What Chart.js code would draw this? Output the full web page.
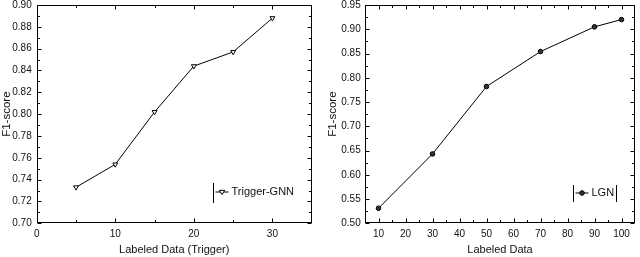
<!DOCTYPE html>
<html><head><meta charset="utf-8">
<script src="https://cdn.jsdelivr.net/npm/chart.js@4.4.0/dist/chart.umd.min.js"></script>
<style>
html,body{margin:0;padding:0;background:#fff;}
#wrap{position:relative;width:640px;height:257px;overflow:hidden;}
.c{position:absolute;top:0;width:320px;height:257px;}
</style></head><body>
<div id="wrap">
<div class="c" style="left:0"><canvas id="c1" width="320" height="257"></canvas></div>
<div class="c" style="left:320px"><canvas id="c2" width="320" height="257"></canvas></div>
</div>
<script>
// ---- Left chart data ----
const leftX = [5, 10, 15, 20, 25, 30];
const leftF1 = [0.733, 0.754, 0.802, 0.844, 0.857, 0.888];
const leftXTicks = [0, 10, 20, 30];
const leftXMinor = [5, 15, 25];
const leftYTicks = [0.70, 0.72, 0.74, 0.76, 0.78, 0.80, 0.82, 0.84, 0.86, 0.88, 0.90];
const leftYMinor = [0.71, 0.73, 0.75, 0.77, 0.79, 0.81, 0.83, 0.85, 0.87, 0.89];
const leftLabel = 'Trigger-GNN';

// ---- Right chart data ----
const rightX = [10, 30, 50, 70, 90, 100];
const rightF1 = [0.531, 0.643, 0.782, 0.854, 0.905, 0.920];
const rightXTicks = [10, 20, 30, 40, 50, 60, 70, 80, 90, 100];
const rightXMinor = [15, 25, 35, 45, 55, 65, 75, 85, 95];
const rightYTicks = [0.50, 0.55, 0.60, 0.65, 0.70, 0.75, 0.80, 0.85, 0.90, 0.95];
const rightYMinor = [0.525, 0.575, 0.625, 0.675, 0.725, 0.775, 0.825, 0.875, 0.925];
const rightLabel = 'LGN';

const FONT = 'Liberation Sans, Arial, Helvetica, sans-serif';
const INK = '#111';

function drawMarker(ctx, style, x, y) {
  ctx.save();
  ctx.lineWidth = 1;
  ctx.strokeStyle = '#000';
  ctx.beginPath();
  if (style === 'tri') {
    const r = 2.8;
    ctx.moveTo(x - r, y - r * 0.6);
    ctx.lineTo(x + r, y - r * 0.6);
    ctx.lineTo(x, y + r * 0.9);
    ctx.closePath();
    ctx.fillStyle = '#fff';
  } else {
    ctx.arc(x, y, 2.3, 0, Math.PI * 2);
    ctx.fillStyle = '#333';
  }
  ctx.fill();
  ctx.stroke();
  ctx.restore();
}

function framePlugin(cfg) {
  return {
    id: 'frame' + cfg.name,
    beforeDatasetsDraw(chart) {
      const {ctx, chartArea: a, scales: {x, y}} = chart;
      const L = Math.round(a.left) + 0.5, R = Math.round(a.right) - 0.5;
      const T = Math.round(a.top) + 0.5, B = Math.round(a.bottom) - 0.5;
      ctx.save();
      ctx.strokeStyle = '#000';
      ctx.lineWidth = 1;
      ctx.strokeRect(L, T, R - L, B - T);
      ctx.beginPath();
      const xt = (vals, len) => vals.forEach(v => {
        const px = Math.round(x.getPixelForValue(v)) + 0.5;
        ctx.moveTo(px, B); ctx.lineTo(px, B - len);
        ctx.moveTo(px, T); ctx.lineTo(px, T + len);
      });
      const yt = (vals, len) => vals.forEach(v => {
        const py = Math.round(y.getPixelForValue(v)) + 0.5;
        ctx.moveTo(L, py); ctx.lineTo(L + len, py);
        ctx.moveTo(R, py); ctx.lineTo(R - len, py);
      });
      xt(cfg.xTicks, 4); xt(cfg.xMinor, 2.5);
      yt(cfg.yTicks, 4); yt(cfg.yMinor, 2.5);
      ctx.stroke();
      ctx.restore();
    },
    afterDraw(chart) {
      const {ctx} = chart;
      const lg = cfg.legend;
      ctx.save();
      ctx.strokeStyle = '#000';
      ctx.lineWidth = 1;
      ctx.beginPath();
      ctx.moveTo(lg.bar1, lg.top); ctx.lineTo(lg.bar1, lg.bottom);
      if (lg.bar2) { ctx.moveTo(lg.bar2, lg.top); ctx.lineTo(lg.bar2, lg.bottom); }
      ctx.moveTo(lg.lineStart, lg.y); ctx.lineTo(lg.lineEnd, lg.y);
      ctx.stroke();
      drawMarker(ctx, cfg.marker, (lg.lineStart + lg.lineEnd) / 2, lg.y);
      ctx.fillStyle = INK;
      ctx.font = lg.size + 'px ' + FONT;
      ctx.textBaseline = 'middle';
      ctx.textAlign = 'left';
      ctx.fillText(cfg.label, lg.textX, lg.y);
      ctx.restore();
    }
  };
}

function makeChart(id, cfg) {
  const dataset = {
    data: cfg.xs.map((v, i) => ({x: v, y: cfg.ys[i]})),
    borderColor: '#000',
    borderWidth: 1,
    tension: 0,
    pointRadius: cfg.marker === 'tri' ? 2.8 : 2.3,
    pointStyle: cfg.marker === 'tri' ? 'triangle' : 'circle',
    rotation: cfg.marker === 'tri' ? 180 : 0,
    pointBackgroundColor: cfg.marker === 'tri' ? '#fff' : '#333',
    pointBorderColor: '#000',
    pointBorderWidth: 1
  };
  const noPad = s => { s.paddingTop = 0; s.paddingBottom = 0; s.paddingLeft = 0; s.paddingRight = 0; };
  return new Chart(document.getElementById(id), {
    type: 'line',
    data: {datasets: [dataset]},
    options: {
      responsive: false,
      animation: false,
      devicePixelRatio: 1,
      layout: {padding: cfg.padding},
      plugins: {legend: {display: false}, tooltip: {enabled: false}},
      scales: {
        x: {
          type: 'linear', min: cfg.xMin, max: cfg.xMax,
          afterBuildTicks: s => { s.ticks = cfg.xTicks.map(v => ({value: v})); },
          afterFit: s => { s.height = cfg.xHeight; noPad(s); },
          grid: {display: false, drawTicks: false},
          border: {display: false},
          ticks: {autoSkip: false, maxRotation: 0, padding: 4.5, color: INK,
                  font: {family: FONT, size: cfg.tickSize}, callback: v => String(v)},
          title: {display: true, text: cfg.xTitle, color: INK,
                  font: {family: FONT, size: cfg.titleSize}, padding: {top: 0, bottom: 0.5}}
        },
        y: {
          type: 'linear', min: cfg.yMin, max: cfg.yMax,
          afterBuildTicks: s => { s.ticks = cfg.yTicks.map(v => ({value: v})); },
          afterFit: s => { s.width = cfg.yWidth; noPad(s); },
          grid: {display: false, drawTicks: false},
          border: {display: false},
          ticks: {autoSkip: false, padding: cfg.yPad, color: INK,
                  font: {family: FONT, size: cfg.tickSize}, callback: v => Number(v).toFixed(2)},
          title: {display: true, text: 'F1-score', color: INK,
                  font: {family: FONT, size: 11.5}, padding: {top: cfg.yTitlePad, bottom: 0}}
        }
      }
    },
    plugins: [framePlugin(cfg)]
  });
}

makeChart('c1', {
  name: 'L', xs: leftX, ys: leftF1, marker: 'tri', label: leftLabel,
  xMin: 0, xMax: 35, yMin: 0.70, yMax: 0.90,
  xTicks: leftXTicks, xMinor: leftXMinor, yTicks: leftYTicks, yMinor: leftYMinor,
  xTitle: 'Labeled Data (Trigger)',
  padding: {top: 3.5, right: 8.3, left: 0, bottom: 0},
  xHeight: 33.7, yWidth: 36.7, yPad: 5, yTitlePad: 0,
  tickSize: 10, titleSize: 11,
  legend: {bar1: 213.5, bar2: 0, top: 183, bottom: 203, y: 192, lineStart: 215.5, lineEnd: 228.5, textX: 231.5, size: 11}
});

makeChart('c2', {
  name: 'R', xs: rightX, ys: rightF1, marker: 'circ', label: rightLabel,
  xMin: 5, xMax: 105, yMin: 0.50, yMax: 0.95,
  xTicks: rightXTicks, xMinor: rightXMinor, yTicks: rightYTicks, yMinor: rightYMinor,
  xTitle: 'Labeled Data',
  padding: {top: 3, right: 1.5, left: 0, bottom: 0},
  xHeight: 33.7, yWidth: 45, yPad: 4.3, yTitlePad: 6.2,
  tickSize: 10, titleSize: 11,
  legend: {bar1: 253.5, bar2: 296.5, top: 185, bottom: 202, y: 193, lineStart: 255.5, lineEnd: 268.5, textX: 271.5, size: 11}
});
</script>
</body></html>
